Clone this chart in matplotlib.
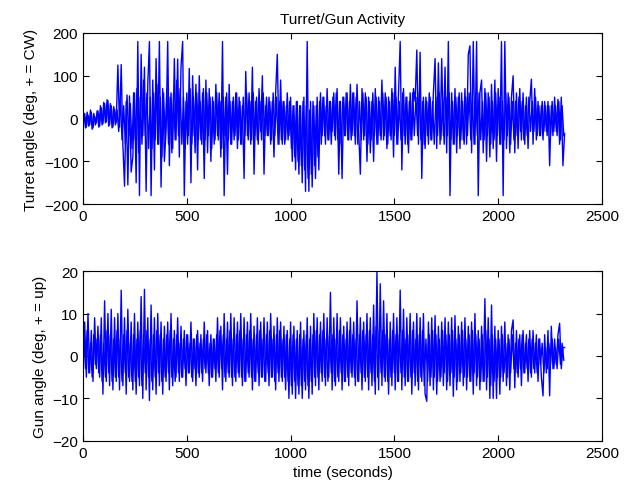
import numpy as np
import matplotlib

matplotlib.use("Agg")
import matplotlib.pyplot as plt

plt.rcParams["font.family"] = ["Liberation Sans", "DejaVu Sans"]
plt.rcParams["font.size"] = 11

# samples every 8 s
sample_step = 8.0

# main turret trace (with the big slews)
turret_angle = [
    -5, 12, -20, 8, -15, 15, -22, 5, -10, 18,
    -18, 25, -12, 35, -8, 42, -15, 30, -20, 22,
    -10, 125, -20, 126, -60, -158, 40, -155, 53, -125,
    -90, 60, -150, 180, -180, 150, -40, 120, -170, 80,
    180, -180, 90, -120, 140, -60, 180, -160, 70, -100,
    -30, 180, -110, 60, -70, 140, -50, 139, -90, 120,
    180, -180, 40, -60, 117, -150, 100, -40, 80, -120,
    100, -50, 60, -140, 90, -80, 70, -100, 50, -60,
    80, -40, 60, -90, 180, -180, 50, -130, 80, -60,
    40, -50, 60, -70, 50, -60, 30, -140, 110, -40,
    60, -60, 120, -130, 40, -50, 70, -30, 100, -130,
    30, -40, 50, -60, 40, -90, 60, 150, -60, 90,
    -60, 40, -50, 60, -40, 50, -100, 30, -120, 40,
    -130, 30, -150, 50, -170, 180, -170, 40, -160, 30,
    -140, 50, -120, 60, -40, 50, -60, 70, -50, 40,
    -30, 60, -50, 70, -130, 40, -140, 50, -40, 60,
    -50, 80, -40, 60, -60, 80, -30, -130, 70, -50,
    60, -100, 50, -80, 40, -100, 70, -60, 50, -40,
    90, -50, 60, -70, 50, -40, 70, -90, 120, -60,
    60, 180, -120, 70, -60, 50, -80, 60, -50, 70,
    40, 160, -60, 155, -140, 50, -70, 40, -60, 50,
    -50, 60, 140, -70, 130, -60, 140, -40, 120, -80,
    180, -180, 60, -60, 70, -80, 50, -70, 60, -50,
    70, -60, 150, 170, -80, 180, -60, 180, -180, 60,
    90, -80, 70, -100, 60, -90, 80, -70, 90, -100,
    70, -60, 180, -180, 180, -70, 60, -80, 50, 100,
    -80, 60, -70, 70, -50, 60, -60, 50, -70, 40,
    92, -60, 70, -50, 40, -40, 30, -50, 40, -30,
    40, -110, 30, -40, 50, -30, 45, -60, 50, -110,
    -35,
]

# second turret trace, the dense core band (starts 4 s later)
turret_core = [
    10, -22, 15, -18, 20, -25, 12, -15, 18, -20,
    30, -15, 38, -10, 44, -18, 35, -22, 28, -15,
    20, -30, 45, -50, 30, -60, 55, -40, 35, -70,
    60, -50, 70, -80, 50, -60, 90, -40, 60, -70,
    50, -70, 60, -50, 80, -60, 50, -90, 60, -50,
    70, -60, 50, -80, 60, -50, 90, -40, 70, -60,
    50, -70, 60, -40, 70, -60, 50, -80, 60, -50,
    40, -60, 70, -50, 60, -40, 50, -70, 40, -50,
    60, -50, 40, -70, 50, -40, 60, -50, 40, -60,
    50, -40, 60, -50, 40, -60, 50, -40, 60, -50,
    40, -50, 60, -40, 50, -60, 40, -50, 60, -40,
    50, -40, 40, -50, 60, -40, 50, -60, 40, -50,
    40, -60, 30, -50, 40, -70, 30, -90, 40, -100,
    30, -110, 40, -120, 30, -140, 20, -130, 40, -110,
    30, -90, 40, -60, 50, -40, 30, -50, 40, -60,
    50, -40, 60, -50, 40, -60, 50, -40, 60, -50,
    40, -50, 60, -40, 50, -60, 40, -50, 60, -40,
    50, -60, 40, -50, 60, -40, 50, -60, 40, -50,
    60, -40, 50, -60, 40, -50, 60, -40, 50, -60,
    40, -50, 60, -40, 50, -60, 40, -50, 60, -40,
    50, -40, 60, -50, 40, -60, 50, -40, 60, -50,
    40, -60, 50, -40, 60, -50, 40, -60, 50, -40,
    60, -50, 40, -60, 50, -40, 60, -50, 40, -60,
    50, -40, 60, -50, 40, -60, 50, -40, 60, -50,
    40, -50, 60, -40, 50, -60, 40, -50, 60, -40,
    50, -60, 40, -50, 60, -40, 50, -60, 40, -50,
    40, -40, 50, -30, 40, -50, 30, -40, 50, -30,
    40, -30, 50, -40, 30, -40, 40, -30, 30, -40,
    30, -40, 40, -30, 30, -40, 40, -50, 30, -40,
]

# main gun trace
gun_angle = [
    -3, 8, -5, 10, -4, 6, -6, 9, -3, 7,
    -5, 9, -9, 13, -6, 10, -7, 11, -8, 9,
    -6, 10, -8, 15.5, -7, 9, -9, 11, -6, 8,
    -8, 10, -9, 8, -7, 14, -10, 15.7, -8, 9,
    -10.5, 12, -8, 9, -9, 10, -7, 8, -9, 7,
    -6, 8, -8, 10, -7, 6, -5, 9, -6, 7,
    -5, 6, -7, 5, -4, 8, -6, 4, -7, 6,
    -5, 5, -6, 8, -4, 6, -7, 5, -5, 4,
    -6, 9, -5, 7, -8, 10, -6, 8, -5, 10,
    -7, 9, -6, 8, -5, 10, -7, 9, -6, 8,
    -5, 10, -8, 7, -6, 9, -7, 8, -5, 9,
    -6, 8, -7, 10, -5, 7, -8, 9, -6, 8,
    -6, 7, -8, 6, -10, 8, -9, 7, -10, 6,
    -9, 8, -10, 6, -8, 9, -10, 7, -9, 10,
    -7, 9, -8, 8, -6, 10, -7, 9, -5, 15,
    -8, 9, -7, 10, -6, 9, -8, 7, -6, 8,
    -7, 9, -5, 8, -7, 13, -6, 9, -8, 8,
    -6, 10, -8, 9, -7, 12, -9, 20, -8, 17,
    -7, 13, -6, 10, -9, 8, -7, 10, -8, 9,
    -6, 15.5, -8, 11, -7, 9, -6, 10, -9, 8,
    -7, 10, -8, 9, -6, 10, -9, -10.7, 8, -7,
    9, -8, 9.5, -9, 7, -6, 8, -7, 9, -8,
    8, -7, 9, -9.5, 9.5, -8, 7, -6, 8, -7,
    9, -8, 7, -6, 8, -9, 10, -7, 6, -8,
    7, -6, 13.5, -8, 9, -10, 12, -10, 7, -10,
    6, -9, 7, -6, 8, -7, 5, -8, 6, 8.5,
    -7.5, 6, -5, 5, -7, 6, -4, 5, -6, 6,
    -5, 6, -4, 5, -6, 4, -5, -9.4, 5, -4,
    6, -9.4, 7, -3, 4, -2, 5, 7.7, -3, 2,
    2,
]

# second gun trace, the dense core band (starts 4 s later)
gun_core = [
    4, -3, 6, -4, 3, -5, 5, -2, 4, -4,
    5, -6, 3, -5, 6, -4, 5, -6, 4, -5,
    6, -5, 4, -6, 5, -4, 6, -5, 3, -6,
    5, -6, 4, -5, 6, -7, 5, -4, 6, -5,
    4, -6, 5, -5, 6, -4, 5, -6, 4, -5,
    5, -4, 6, -5, 4, -6, 5, -4, 3, -5,
    4, -3, 5, -4, 3, -5, 4, -3, 5, -4,
    3, -4, 4, -3, 5, -4, 3, -5, 4, -3,
    5, -4, 6, -3, 5, -5, 4, -4, 6, -5,
    4, -5, 5, -4, 6, -5, 4, -6, 5, -4,
    6, -5, 4, -6, 5, -4, 6, -5, 4, -6,
    5, -4, 6, -5, 4, -6, 5, -4, 6, -5,
    4, -5, 5, -6, 4, -7, 5, -6, 4, -7,
    5, -7, 4, -6, 5, -7, 4, -6, 5, -5,
    6, -5, 5, -4, 6, -5, 4, -6, 5, -4,
    5, -6, 4, -5, 6, -4, 5, -6, 4, -5,
    6, -4, 5, -5, 4, -6, 5, -4, 6, -5,
    5, -5, 6, -4, 5, -6, 7, -5, 6, -4,
    6, -5, 5, -6, 4, -5, 6, -4, 5, -6,
    5, -4, 6, -5, 4, -6, 5, -5, 6, -4,
    4, -6, 5, -5, 6, -7, 4, -6, 5, -5,
    6, -5, 5, -6, 4, -5, 6, -4, 5, -6,
    5, -4, 6, -5, 4, -6, 5, -4, 6, -5,
    4, -5, 5, -6, 6, -4, 5, -5, 4, -6,
    5, -6, 6, -5, 4, -7, 5, -6, 4, -5,
    4, -5, 5, -4, 3, -5, 4, -4, 5, -3,
    3, -4, 4, -3, 5, -4, 3, -3, 4, -4,
    4, -3, 3, -4, 4, -2, 3, -4, 2, -3,
    3, -2, 4, -3, 2, -3, 4, -2, 3, -1,
]

x_ticks = [0, 500, 1000, 1500, 2000, 2500]
turret_ticks = [-200, -100, 0, 100, 200]
gun_ticks = [-20, -10, 0, 10, 20]
line_color = "#0000ff"


def style_axes(ax):
    ax.tick_params(direction="in", top=True, right=True, length=4, width=0.8, labelsize=11)
    for spine in ax.spines.values():
        spine.set_linewidth(0.8)


fig = plt.figure(figsize=(6.26, 4.85), dpi=100)
ax1 = fig.add_axes([0.1326, 0.577, 0.829, 0.353])
ax2 = fig.add_axes([0.1326, 0.089, 0.829, 0.350])

t_main = np.arange(len(turret_angle)) * sample_step
t_core = np.arange(len(turret_core)) * sample_step + sample_step / 2

ax1.plot(t_core, turret_core, color=line_color, linewidth=1.0)
ax1.plot(t_main, turret_angle, color=line_color, linewidth=1.0)
ax1.set_xlim(0, 2500)
ax1.set_ylim(-200, 200)
ax1.set_xticks(x_ticks)
ax1.set_yticks(turret_ticks)
ax1.set_ylabel("Turret angle (deg, + = CW)")
ax1.set_title("Turret/Gun Activity", fontsize=11, pad=7)
style_axes(ax1)

g_main = np.arange(len(gun_angle)) * sample_step
g_core = np.arange(len(gun_core)) * sample_step + sample_step / 2

ax2.plot(g_core, gun_core, color=line_color, linewidth=1.0)
ax2.plot(g_main, gun_angle, color=line_color, linewidth=1.0)
ax2.set_xlim(0, 2500)
ax2.set_ylim(-20, 20)
ax2.set_xticks(x_ticks)
ax2.set_yticks(gun_ticks)
ax2.set_ylabel("Gun angle (deg, + = up)")
ax2.set_xlabel("time (seconds)")
style_axes(ax2)

fig.savefig("out.png", dpi=100)
plt.close()
